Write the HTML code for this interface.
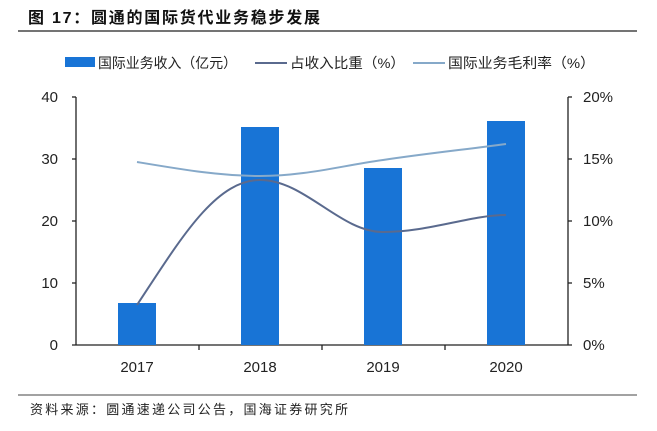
<!DOCTYPE html>
<html><head><meta charset="utf-8"><style>
body{margin:0;background:#fff;}
svg text{font-family:"Liberation Sans","Noto Sans CJK SC",sans-serif;}
</style></head><body>
<svg width="657" height="426" viewBox="0 0 657 426" xmlns="http://www.w3.org/2000/svg">
<text x="28" y="23" font-size="16" font-weight="bold" fill="#111" textLength="292" lengthAdjust="spacing">图 17：圆通的国际货代业务稳步发展</text>
<line x1="18" y1="31" x2="637" y2="31" stroke="#222" stroke-width="1.2"/>
<rect x="65" y="57" width="30" height="10" fill="#1874d6"/>
<text x="98" y="68" font-size="14" fill="#222" textLength="139" lengthAdjust="spacingAndGlyphs">国际业务收入（亿元）</text>
<line x1="255" y1="63" x2="287" y2="63" stroke="#5a6a8e" stroke-width="2"/>
<text x="290" y="68" font-size="14" fill="#222" textLength="115" lengthAdjust="spacingAndGlyphs">占收入比重（%）</text>
<line x1="413" y1="63" x2="445" y2="63" stroke="#86a9c9" stroke-width="2"/>
<text x="448" y="68" font-size="14" fill="#222" textLength="147" lengthAdjust="spacingAndGlyphs">国际业务毛利率（%）</text>
<g stroke="#222" stroke-width="1.3" fill="none">
<line x1="76" y1="97" x2="76" y2="345"/>
<line x1="568" y1="97" x2="568" y2="345"/>
<line x1="72" y1="345" x2="572" y2="345"/>
<line x1="72" y1="97" x2="76" y2="97"/><line x1="72" y1="159" x2="76" y2="159"/><line x1="72" y1="221" x2="76" y2="221"/><line x1="72" y1="283" x2="76" y2="283"/>
<line x1="568" y1="97" x2="572" y2="97"/><line x1="568" y1="159" x2="572" y2="159"/><line x1="568" y1="221" x2="572" y2="221"/><line x1="568" y1="283" x2="572" y2="283"/>
<line x1="199" y1="345" x2="199" y2="350"/><line x1="322" y1="345" x2="322" y2="350"/><line x1="445" y1="345" x2="445" y2="350"/>
</g>
<g font-size="15" fill="#222" text-anchor="end">
<text x="58" y="102">40</text><text x="58" y="164">30</text><text x="58" y="226">20</text><text x="58" y="288">10</text><text x="58" y="350">0</text>
</g>
<g font-size="15" fill="#222">
<text x="583" y="102">20%</text><text x="583" y="164">15%</text><text x="583" y="226">10%</text><text x="583" y="288">5%</text><text x="583" y="350">0%</text>
</g>
<g font-size="15" fill="#222" text-anchor="middle">
<text x="137" y="372">2017</text><text x="260" y="372">2018</text><text x="383" y="372">2019</text><text x="506" y="372">2020</text>
</g>
<g fill="#1874d6">
<rect x="118" y="303" width="38" height="42"/>
<rect x="241" y="127" width="38" height="218"/>
<rect x="364" y="168" width="38" height="177"/>
<rect x="487" y="121" width="38" height="224"/>
</g>
<path d="M137,305 C180,240 215,180 260,180 C305,180 340,232 383,232 C430,232 470,215 506,215" stroke="#5a6a8e" stroke-width="2" fill="none"/>
<path d="M137,162 C185,170 220,176 260,176 C305,176 340,166 383,160 C430,153 470,149 506,144" stroke="#86a9c9" stroke-width="2" fill="none"/>
<line x1="18" y1="395" x2="637" y2="395" stroke="#444" stroke-width="1"/>
<text x="30" y="414" font-size="13" fill="#222" textLength="318" lengthAdjust="spacing">资料来源：圆通速递公司公告，国海证券研究所</text>
</svg>
</body></html>
